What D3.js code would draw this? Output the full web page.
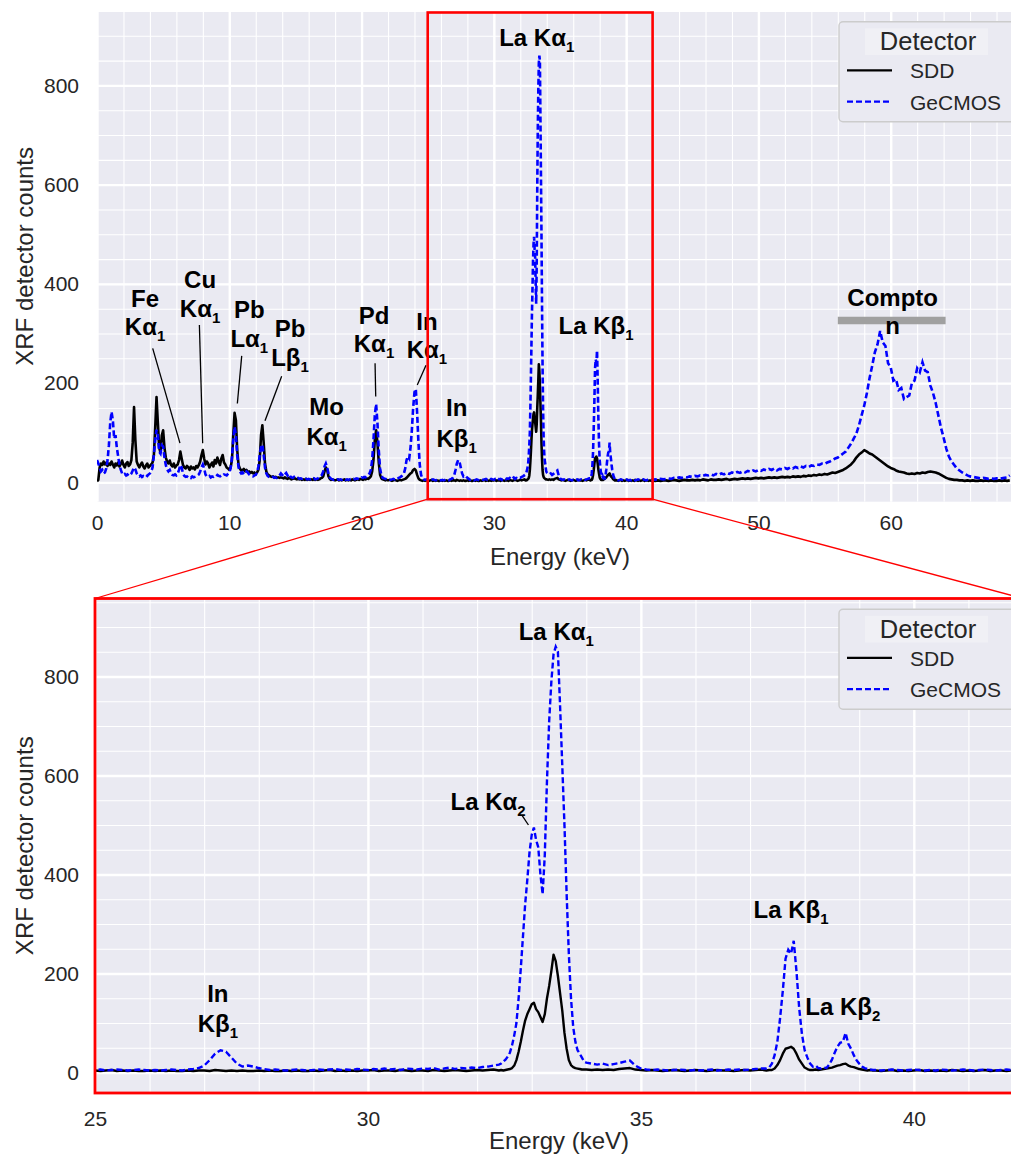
<!DOCTYPE html>
<html><head><meta charset="utf-8">
<script src="https://cdn.jsdelivr.net/npm/d3@7"></script>
<style>
body{margin:0;background:#fff}
text{font-family:Arial,"Liberation Sans",sans-serif}
</style></head>
<body><svg id="c" width="1011" height="1159"></svg>
<script>
// ---------- DATA (channel segments: start keV, step keV) ----------
const segStart=[0,25,32.4,34,37.3,39.3,42];
const segStep=[0.1,0.1,0.04,0.1,0.05,0.1,0.2];

// SDD counts
const sddA=[2,5,30,38,35,42,36,40,33,38, 35,42,36,30,38,34,40,32,37,44, 35,30,38,41,33,36,45,80,152,85,
 42,35,30,36,40,32,28,34,38,30, 33,36,40,55,110,172,120,70,60,95, 105,70,50,42,38,44,35,32,38,30,
 34,36,45,62,48,35,30,28,33,30, 25,32,28,30,26,33,30,35,42,55, 65,48,36,42,38,30,35,40,32,45,
 38,50,42,35,48,55,40,36,30,28, 25,30,45,95,140,125,65,35,28,24, 24,27,22,25,20,22,19,21,18,20,
 18,20,25,45,95,115,80,38,22,16, 14,12,11,12,10,11,9,10,9,10, 9,8,10,8,7,9,8,6,7,9,
 7,6,8,6,7,5,6,5,7,5, 6,5,6,5,7,5,6,5,6,8, 9,12,22,30,25,12,7,5,6,5,
 4,5,6,4,5,4,5,6,4,5, 4,5,4,6,5,4,5,6,5,7, 6,5,7,6,8,7,9,12,22,45,
 85,105,80,40,15,8,6,5,4,5, 4,5,4,3,4,5,4,3,4,5, 4,5,6,7,9,12,15,18,20,25,
 27,24,15,8,5,4,3,4,3,4];
const sddB1=[4,3,4,5,3,4,3,4,3,3, 4,3,4,3,4,3,3,4,3,4, 4,3,5,4,3,4,3,4,3,3, 4,3,4,3,3,4,3,4,3,3,
 4,3,4,5,3,4,3,4,3,4, 4,5,3,4,4,3,5,4,3,4, 4,3,5,4,3,4,5,4,3,4, 5,4,5,6];
const sddB2=[4,5,4,5,6,7,9,14,25,42, 62,85,105,118,128,138,141,128,122,112, 102,118,150,175,205,238,225,195,160,125,
 80,48,25,15,11,9,8,7,6,6];
const sddB3=[6,5,6,5,6,5,7,8,9,6, 5,4,5,4,3,4,5,4,3,4, 5,4,3,4,5,4,4,3,4,5, 4,5,6];
const sddB4=[4,5,5,8,15,25,38,48,50,52, 48,38,26,18,10,7,5,5,6,5, 6,7,8,9,10,12,14,15,17,18,
 14,12,11,9,7,6,5,4,5,4];
const sddB5=[4,3,4,5,3,4,3,4,5,3, 4,3,4,3,5,4,3,4,3,4, 5,3,4,4,3,4,3];
const sddC=[4,3,4,3,4, 4,3,4,5,4, 3,4,5,4,4, 5,4,5,4,6, 5,4,6,5,5, 6,5,6,7,5, 6,7,6,7,8, 7,8,7,8,9,
 8,9,8,9,10, 9,10,9,10,11, 10,11,10,12,11, 12,11,13,12,14, 13,15,14,16,15, 17,16,18,20,19,
 21,23,25,28,32, 36,42,50,56,60, 65,62,58,56,52, 48,44,40,36,32, 29,27,24,22,21, 20,18,17,18,17,
 19,18,20,19,21, 22,21,20,18,15, 12,9,7,6,5, 5,4,4,3,4, 3,4,3,3,4, 3,4,3,4,3, 3,4,3,4,3, 4];

// GeCMOS counts
const gecA=[45,38,30,22,25,18,20,28,45,75, 120,142,125,88,95,70,52,35,25,18, 15,17,14,16,13,15,18,24,30,26,
 18,14,12,14,11,13,12,15,13,16, 18,22,30,55,85,106,95,62,58,75, 72,50,35,26,22,25,18,15,14,16,
 14,18,25,35,30,18,13,11,12,10, 11,9,12,10,11,12,14,16,22,30, 36,28,16,12,11,13,10,12,11,13,
 12,15,13,12,14,13,16,15,14,17, 20,28,50,85,112,95,55,30,22,18, 20,16,18,22,20,16,14,13,12,14,
 15,20,32,55,72,76,55,30,18,13, 11,10,9,11,9,10,9,11,14,18, 15,12,16,19,14,17,12,10,9,11,
 9,8,9,7,8,7,8,6,7,6, 7,6,7,6,8,6,7,8,10,12, 15,22,32,38,30,18,10,7,6,5,
 6,5,6,5,6,5,6,7,5,6, 5,6,7,6,7,6,8,7,9,8, 10,9,11,10,12,14,18,25,45,85,
 135,158,120,65,28,14,9,8,7,6, 7,6,5,6,7,6,8,7,9,10, 12,14,18,28,45,52,48,70,105,150,
 182,188,140,80,35,15,8,6,5,6];
const gecB1=[5,6,4,5,6,5,4,5,6,5, 4,5,4,5,6,5,4,6,7,9, 14,25,38,45,42,30,18,12,14,12, 9,7,5,6,5,4,5,6,5,4,
 5,6,5,6,7,5,6,5,7,6, 5,7,6,8,6,7,5,8,7,6, 8,7,9,6,8,10,7,9,8,10, 9,11,12,14];
const gecB2=[16,18,22,26,32,40,55,75,100,150, 210,275,340,390,445,480,495,470,455,400, 360,440,590,710,790,845,860,850,740,620,
 500,360,240,150,92,62,45,38,30,22];
const gecB3=[20,18,16,18,15,17,19,22,24,14, 8,6,5,6,5,4,5,6,5,4, 5,4,5,6,4,5,6,5,6,5, 6,7,8];
const gecB4=[8,10,18,35,62,110,165,230,248,240, 266,205,130,78,45,30,18,12,14,9, 8,10,9,16,26,40,52,60,62,80,
 58,48,35,25,18,12,9,7,6,5];
const gecB5=[5,4,5,6,5,4,5,6,5,4, 5,4,6,5,4,5,6,5,4,5, 6,5,4,5,6,5,5];
const gecC=[5,6,5,7,6, 7,8,7,9,8, 10,9,11,10,12, 11,13,12,14,13, 15,14,16,14,17, 15,18,16,19,17, 20,18,21,19,22,
 20,23,21,24,22, 25,23,26,24,27, 25,28,24,27,26, 29,27,30,28,31, 29,32,30,33,31, 34,33,36,35,38,
 37,40,42,45,48, 50,54,58,62,70, 78,88,98,115,135, 155,180,210,235,262, 278,305,282,275,240,
 232,205,208,186,190, 168,172,175,200,205, 230,222,242,225,222, 195,180,160,135,110, 90,68,52,42,35,
 28,24,20,17,14, 12,11,10,9,8, 9,8,7,8,7, 8,7,8,9,10, 14];

// Axis ticks
const topXTicks=[0,10,20,30,40,50,60];
const botXTicks=[25,30,35,40];
const yTicks=[0,200,400,600,800];

// Series names
const seriesNames=["SDD","GeCMOS"];

// Annotations: lines, x (keV), baseline (counts) per line, optional leader line
const topNotes=[
 {t:[["Fe"],["Kα","1"]],x:3.63,y:[354,297],arrow:[4.21,270,6.27,79]},
 {t:[["Cu"],["Kα","1"]],x:7.79,y:[391,334],arrow:[7.74,317,7.99,79]},
 {t:[["Pb"],["Lα","1"]],x:11.51,y:[331,273],arrow:[10.94,255,10.61,159]},
 {t:[["Pb"],["Lβ","1"]],x:14.59,y:[292,234],arrow:[13.96,214,12.70,124]},
 {t:[["Mo"],["Kα","1"]],x:17.36,y:[136,75]},
 {t:[["Pd"],["Kα","1"]],x:20.94,y:[320,263],arrow:[21.02,240,21.07,173]},
 {t:[["In"],["Kα","1"]],x:24.94,y:[307,250],arrow:[24.87,236,24.21,196]},
 {t:[["In"],["Kβ","1"]],x:27.19,y:[134,72]},
 {t:[["La Kα","1"]],x:33.24,y:[879]},
 {t:[["La Kβ","1"]],x:37.72,y:[300]},
 {t:[["Compto"],["n"]],x:60.15,y:[355,300]}
];
const comptonBar=[56.0,64.15,326];
const botNotes=[
 {t:[["In"],["Kβ","1"]],x:27.25,y:[143,82]},
 {t:[["La Kα","1"]],x:33.45,y:[874]},
 {t:[["La Kα","2"]],x:32.2,y:[530],arrow:[32.82,520,32.94,500]},
 {t:[["La Kβ","1"]],x:37.75,y:[312]},
 {t:[["La Kβ","2"]],x:38.70,y:[116]}
];

// ---------- BUILD ----------
function buildSeries(parts){
  const out=[];
  parts.forEach((arr,k)=>arr.forEach((v,i)=>out.push([+(segStart[k]+i*segStep[k]).toFixed(3),v])));
  return out;
}
const sdd=buildSeries([sddA,sddB1,sddB2,sddB3,sddB4,sddB5,sddC]);
const gec=buildSeries([gecA,gecB1,gecB2,gecB3,gecB4,gecB5,gecC]);

const svg=d3.select('#c');
const BG='#EAEAF2', TXT='#262626';

function panel(o){
  const x=d3.scaleLinear().domain(o.xd).range([o.left,o.right]);
  const y=d3.scaleLinear().domain(o.yd).range([o.bottom,o.top]);
  const g=svg.append('g');
  const cid='clip'+o.id;
  svg.append('clipPath').attr('id',cid).append('rect')
    .attr('x',o.left).attr('y',o.top).attr('width',o.right-o.left).attr('height',o.bottom-o.top);
  g.append('rect').attr('x',o.left).attr('y',o.top).attr('width',o.right-o.left).attr('height',o.bottom-o.top).attr('fill',BG);
  const h=o.bottom-o.top, w=o.right-o.left;
  const gx=g.append('g').attr('clip-path',`url(#${cid})`);
  const drawGrid=(vals,vert,wid)=>{
    const ax=vert? d3.axisBottom(x).tickValues(vals).tickSize(-h).tickFormat('')
                 : d3.axisLeft(y).tickValues(vals).tickSize(-w).tickFormat('');
    const gg=gx.append('g').attr('transform',vert?`translate(0,${o.bottom})`:`translate(${o.left},0)`).call(ax);
    gg.select('.domain').remove();
    gg.selectAll('line').attr('stroke','#fff').attr('stroke-width',wid);
  };
  drawGrid(o.xMinor,true,1.1); drawGrid(o.yMinor,false,1.1);
  drawGrid(o.xTicks,true,2.4); drawGrid(yTicks,false,2.4);
  const line=d3.line().x(d=>x(d[0])).y(d=>y(d[1]));
  const lg=g.append('g').attr('clip-path',`url(#${cid})`);
  lg.append('path').datum(sdd).attr('d',line).attr('fill','none').attr('stroke','#000').attr('stroke-width',o.lw).attr('stroke-linejoin','round');
  lg.append('path').datum(gec).attr('d',line).attr('fill','none').attr('stroke','#0000FF').attr('stroke-width',o.lw).attr('stroke-dasharray','6,3');
  const xa=g.append('g').attr('transform',`translate(0,${o.bottom})`)
    .call(d3.axisBottom(x).tickValues(o.xTicks).tickSize(0).tickPadding(o.xpad).tickFormat(d3.format('d')));
  xa.select('.domain').remove();
  xa.selectAll('text').attr('font-size',21).attr('fill',TXT).style('font-family','Arial,"Liberation Sans",sans-serif');
  const ya=g.append('g').attr('transform',`translate(${o.left},0)`)
    .call(d3.axisLeft(y).tickValues(yTicks).tickSize(0).tickPadding(o.left-79).tickFormat(d3.format('d')));
  ya.select('.domain').remove();
  ya.selectAll('text').attr('font-size',21).attr('fill',TXT).style('font-family','Arial,"Liberation Sans",sans-serif');
  g.append('text').attr('x',(o.left+o.right)/2).attr('y',o.xlabY).attr('text-anchor','middle')
    .attr('font-size',24).attr('fill',TXT).text('Energy (keV)');
  g.append('text').attr('transform',`translate(33,${(o.top+o.bottom)/2}) rotate(-90)`).attr('text-anchor','middle')
    .attr('font-size',24).attr('fill',TXT).text('XRF detector counts');
  return {x,y,g};
}

function notes(p,list){
  list.forEach(n=>{
    n.t.forEach((ln,i)=>{
      const t=p.g.append('text').attr('x',p.x(n.x)).attr('y',p.y(n.y[i])).attr('text-anchor','middle')
        .attr('font-size',24).attr('font-weight','bold').attr('fill','#000');
      t.append('tspan').text(ln[0]);
      if(ln[1]) t.append('tspan').attr('dy',6).attr('font-size',15).text(ln[1]);
    });
    if(n.arrow){
      p.g.append('line').attr('x1',p.x(n.arrow[0])).attr('y1',p.y(n.arrow[1]))
        .attr('x2',p.x(n.arrow[2])).attr('y2',p.y(n.arrow[3])).attr('stroke','#000').attr('stroke-width',1.3);
    }
  });
}

function legend(ty){
  const g=svg.append('g');
  g.append('rect').attr('x',839).attr('y',ty).attr('width',180).attr('height',100).attr('rx',4)
    .attr('fill',BG).attr('stroke','#CCCCCC').attr('stroke-width',1.4);
  g.append('rect').attr('x',865).attr('y',ty+6.6).attr('width',123).attr('height',26.7).attr('fill','#F0F0F5');
  g.append('text').attr('x',928).attr('y',ty+28.3).attr('text-anchor','middle').attr('font-size',25.5).attr('fill',TXT).text('Detector');
  const ys=[ty+48.6,ty+80];
  seriesNames.forEach((s,i)=>{
    g.append('line').attr('x1',847).attr('x2',892).attr('y1',ys[i]).attr('y2',ys[i])
      .attr('stroke',i?'#0000FF':'#000').attr('stroke-width',2.2).attr('stroke-dasharray',i?'6,3':null);
    g.append('text').attr('x',910).attr('y',ys[i]+7.8).attr('font-size',21).attr('fill',TXT).text(s);
  });
}

const topP=panel({id:'t',xd:[0,70],yd:[-39,950],left:97,right:1023,top:11,bottom:501.7,
  xTicks:topXTicks,xMinor:d3.range(0,71,2),yMinor:d3.range(0,951,50),xpad:13,xlabY:565,lw:2.6});
const botP=panel({id:'b',xd:[25,42],yd:[-41.4,957.6],left:95,right:1023,top:598.5,bottom:1093,
  xTicks:botXTicks,xMinor:d3.range(25,43,1),yMinor:d3.range(0,951,50),xpad:18,xlabY:1149,lw:2.4});

topP.g.append('line').attr('x1',topP.x(comptonBar[0])).attr('x2',topP.x(comptonBar[1]))
  .attr('y1',topP.y(comptonBar[2])).attr('y2',topP.y(comptonBar[2])).attr('stroke','#A0A0A0').attr('stroke-width',7.5);
notes(topP,topNotes);
notes(botP,botNotes);
legend(21.7);
legend(609.2);

const zx0=topP.x(25), zx1=topP.x(42), zy0=topP.y(947), zy1=topP.y(-34);
svg.append('rect').attr('x',zx0).attr('y',zy0).attr('width',zx1-zx0).attr('height',zy1-zy0)
  .attr('fill','none').attr('stroke','#FF0000').attr('stroke-width',2.6);
svg.append('rect').attr('x',botP.x(25)).attr('y',598.5).attr('width',botP.x(42)-botP.x(25)).attr('height',1093-598.5)
  .attr('fill','none').attr('stroke','#FF0000').attr('stroke-width',2.8);
svg.append('line').attr('x1',zx0).attr('y1',zy1).attr('x2',botP.x(25)).attr('y2',598.5).attr('stroke','#FF0000').attr('stroke-width',1.3);
svg.append('line').attr('x1',zx1).attr('y1',zy1).attr('x2',botP.x(42)).attr('y2',598.5).attr('stroke','#FF0000').attr('stroke-width',1.3);
</script></body></html>
